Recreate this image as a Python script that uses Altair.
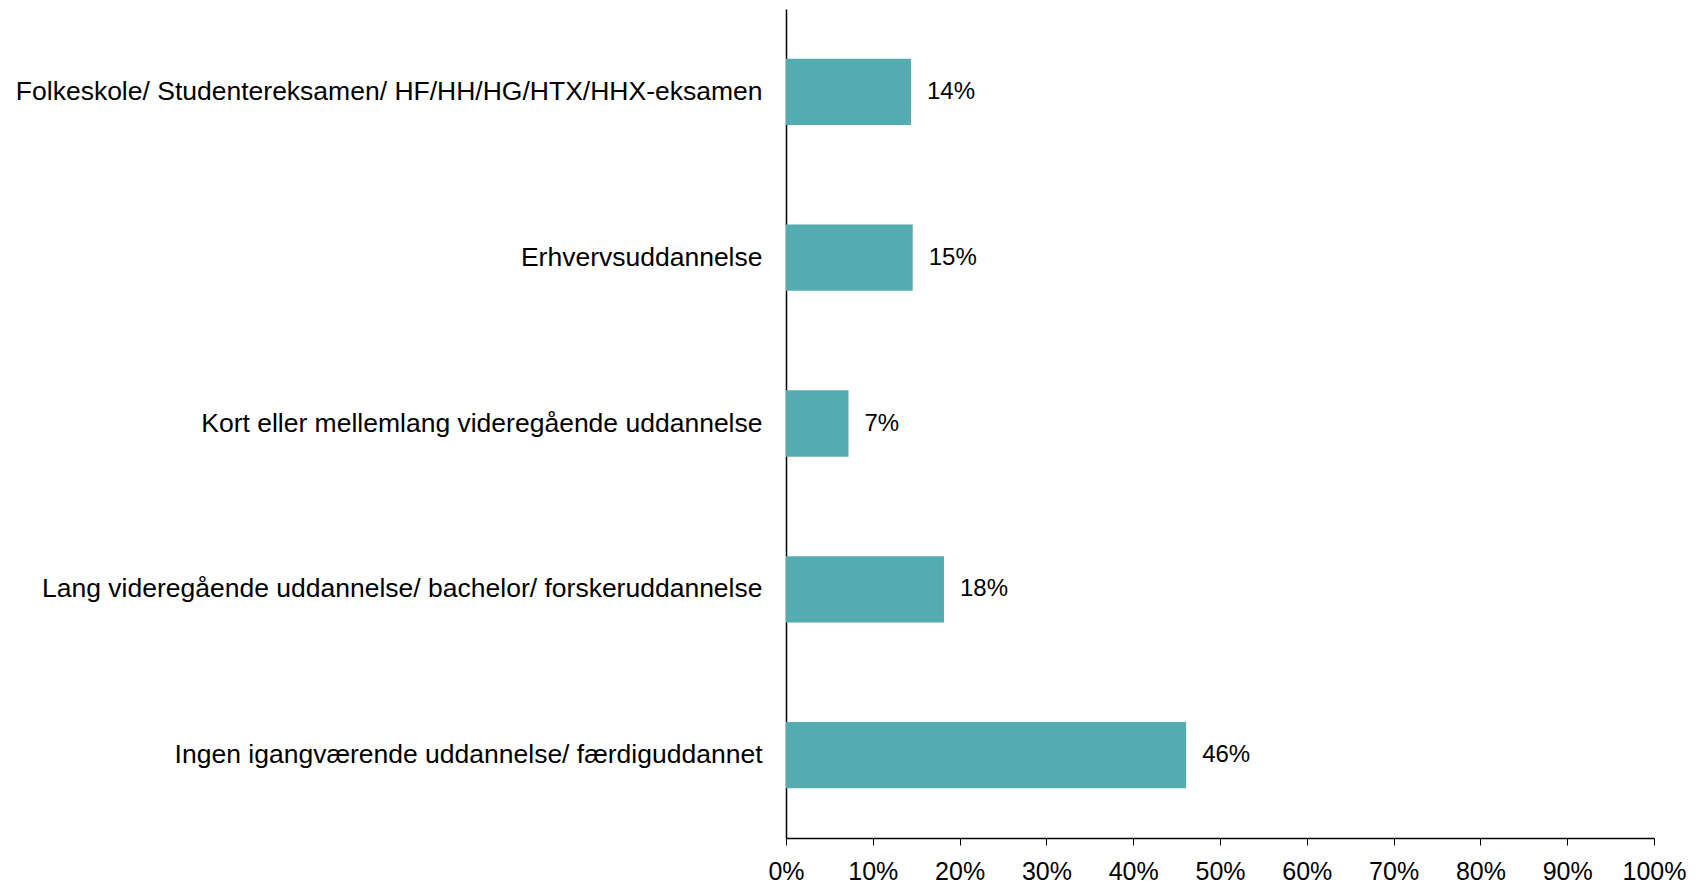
import altair as alt
import pandas as pd

categories = [
    "Folkeskole/ Studentereksamen/ HF/HH/HG/HTX/HHX-eksamen",
    "Erhvervsuddannelse",
    "Kort eller mellemlang videregående uddannelse",
    "Lang videregående uddannelse/ bachelor/ forskeruddannelse",
    "Ingen igangværende uddannelse/ færdiguddannet",
]
values = [0.144, 0.146, 0.072, 0.182, 0.461]
labels = ["14%", "15%", "7%", "18%", "46%"]

df = pd.DataFrame({"cat": categories, "val": values, "lab": labels})

FONT = "Liberation Sans"
FS = 24

y = alt.Y("cat:N", sort=categories, title=None,
          scale=alt.Scale(paddingInner=0.6, paddingOuter=0.3),
          axis=alt.Axis(domainColor="black", domainWidth=1.5, ticks=False,
                        labelPadding=24, labelFontSize=26.5, labelFont=FONT,
                        labelColor="black", labelLimit=1000, grid=False))
x = alt.X("val:Q", title=None,
          scale=alt.Scale(domain=[0, 1], nice=False),
          axis=alt.Axis(format=".0%", values=[i / 10 for i in range(11)],
                        domainColor="black", domainWidth=1.5, tickColor="black",
                        tickSize=7, tickWidth=1, labelPadding=14,
                        labelFontSize=25, labelFont=FONT, labelColor="black",
                        grid=False, labelFlush=False))

bars = alt.Chart(df).mark_bar(color="#55ACB0").encode(x=x, y=y)
text = alt.Chart(df).mark_text(align="left", baseline="middle", dx=16,
                               fontSize=FS, font=FONT, color="black").encode(
    x="val:Q", y=alt.Y("cat:N", sort=categories), text="lab:N")

chart = (bars + text).properties(
    width=868, height=829,
    autosize=alt.AutoSizeParams(type="none"),
    padding={"left": 778, "top": 1, "right": 44, "bottom": 50},
).configure_view(stroke=None)

chart.save("out.html", embed_options={"renderer": "svg", "actions": False})
